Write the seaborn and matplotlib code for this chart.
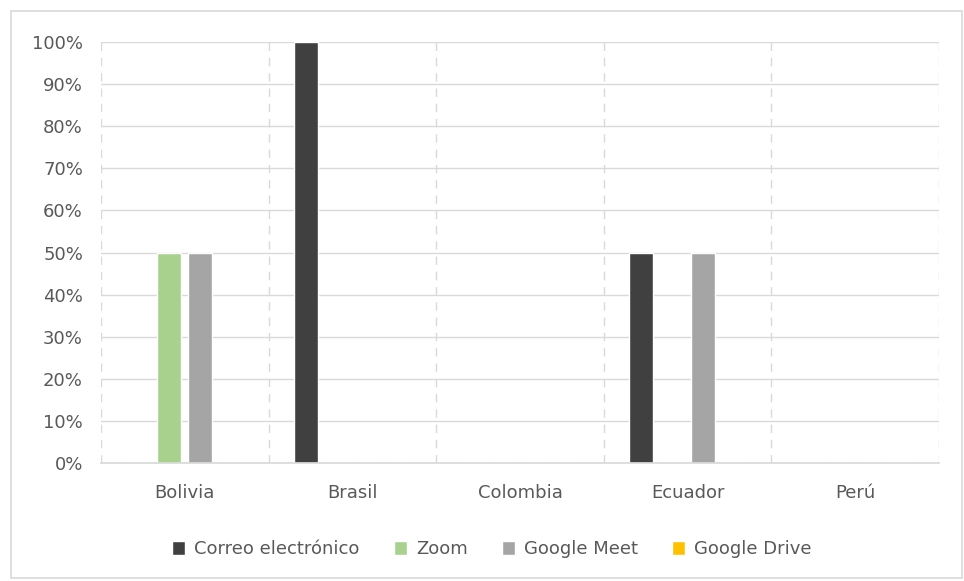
import matplotlib
matplotlib.use("Agg")
import matplotlib.pyplot as plt
from matplotlib.patches import Rectangle
from matplotlib.ticker import PercentFormatter, MultipleLocator
import seaborn as sns
import pandas as pd

countries = ["Bolivia", "Brasil", "Colombia", "Ecuador", "Perú"]
series = ["Correo electrónico", "Zoom", "Google Meet", "Google Drive"]
correo = [0, 100, 0, 50, 0]
zoom = [50, 0, 0, 0, 0]
meet = [50, 0, 0, 50, 0]
drive = [0, 0, 0, 0, 0]
colors = ["#404040", "#a9d18e", "#a5a5a5", "#ffc000"]

rows = []
for name, vals in zip(series, [correo, zoom, meet, drive]):
    for c, v in zip(countries, vals):
        rows.append({"País": c, "Herramienta": name, "Valor": v})
df = pd.DataFrame(rows)

sns.set_theme(style="white")
plt.rcParams["font.family"] = ["DejaVu Sans"]

fig = plt.figure(figsize=(9.64, 5.81), dpi=100)
ax = fig.add_axes([101 / 964, 1 - 463 / 581, 838 / 964, 421 / 581])

sns.barplot(data=df, x="País", y="Valor", hue="Herramienta",
            order=countries, hue_order=series, palette=colors, saturation=1,
            width=0.74, gap=0.23, ax=ax, legend=True)

ax.set_xlim(-0.5, len(countries) - 0.5)
ax.set_ylim(0, 100)
ax.yaxis.set_major_locator(MultipleLocator(10))
ax.yaxis.set_major_formatter(PercentFormatter(100, decimals=0))
ax.grid(axis="y", color="#d9d9d9", linewidth=1.0, linestyle="-")
ax.set_axisbelow(True)
for xb in range(len(countries) + 1):
    ax.axvline(xb - 0.5, color="#d9d9d9", linewidth=1.0,
               linestyle=(0, (6, 5)), zorder=0)
for s in ["top", "left", "right"]:
    ax.spines[s].set_visible(False)
ax.spines["bottom"].set_color("#d9d9d9")
ax.set_xlabel("")
ax.set_ylabel("")
ax.tick_params(axis="both", length=0, colors="#595959", labelsize=13)
ax.tick_params(axis="x", pad=15)
ax.tick_params(axis="y", pad=13)

handles, labels = ax.get_legend_handles_labels()
ax.legend_.remove()
fig.legend(handles, labels, loc="center", bbox_to_anchor=(492 / 964, 1 - 549 / 581),
           ncol=4, frameon=False, fontsize=13, labelcolor="#595959",
           handlelength=0.72, handleheight=0.8, handletextpad=0.5, columnspacing=1.9)

fig.patches.append(Rectangle((11 / 964, 3 / 581), 951 / 964, 567 / 581,
                             transform=fig.transFigure, fill=False,
                             edgecolor="#d9d9d9", linewidth=1.2))

fig.savefig("out.png", dpi=100, facecolor="white")
